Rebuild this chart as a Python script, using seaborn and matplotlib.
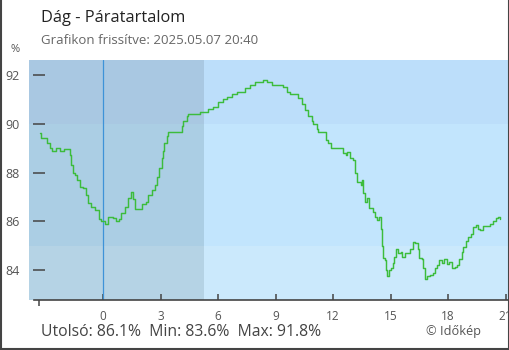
import matplotlib
matplotlib.use("Agg")
import matplotlib.pyplot as plt
import seaborn as sns
from matplotlib.lines import Line2D

# Humidity readings (hours relative to midnight, %)
hours = [-3.27, -3.21, -2.91, -2.75, -2.64, -2.45, -2.24, -2.03, -1.74, -1.70,
         -1.65, -1.56, -1.48, -1.34, -1.22, -1.04, -0.87, -0.78, -0.63, -0.42,
         -0.22, -0.10, 0.09, 0.26, 0.52, 0.69, 0.82, 0.95, 1.13, 1.30,
         1.44, 1.56, 1.65, 1.93, 2.02, 2.24, 2.36, 2.54, 2.71, 2.80,
         2.94, 3.06, 3.11, 3.20, 3.32, 3.41, 4.02, 4.11, 4.19, 4.37,
         4.43, 4.89, 5.06, 5.41, 5.48, 5.67, 5.74, 5.93, 6.01, 6.28,
         6.45, 6.71, 6.97, 7.29, 7.41, 7.67, 7.93, 8.36, 8.54, 8.80,
         9.32, 9.39, 9.58, 9.75, 10.10, 10.19, 10.37, 10.54, 10.71, 10.89,
         10.97, 11.11, 11.18, 11.23, 11.49, 11.63, 11.75, 11.88, 12.45, 12.54,
         12.68, 12.74, 12.88, 13.03, 13.15, 13.23, 13.44, 13.50, 13.55, 13.67,
         13.79, 13.89, 14.07, 14.19, 14.31, 14.41, 14.50, 14.54, 14.59, 14.71,
         14.76, 14.80, 14.92, 15.01, 15.11, 15.18, 15.28, 15.40, 15.53, 15.61,
         15.75, 15.87, 16.01, 16.16, 16.27, 16.42, 16.48, 16.62, 16.71, 16.80,
         16.89, 17.06, 17.23, 17.32, 17.41, 17.54, 17.67, 17.79, 17.93, 18.06,
         18.19, 18.36, 18.48, 18.59, 18.71, 18.80, 18.94, 19.06, 19.18, 19.32,
         19.46, 19.58, 19.67, 19.84, 20.10, 20.19, 20.32, 20.49, 20.61, 20.70]
humidity = [89.6, 89.4, 89.2, 89.0, 88.9, 89.0, 88.9, 88.95, 88.9, 88.7,
            88.3, 88.0, 87.9, 87.7, 87.4, 87.35, 87.1, 86.75, 86.6, 86.45,
            86.1, 86.0, 85.9, 86.2, 86.15, 86.0, 86.1, 86.35, 86.6, 86.95,
            87.2, 86.9, 86.5, 86.5, 86.7, 86.8, 87.1, 87.3, 87.5, 87.8,
            88.2, 88.6, 88.9, 89.2, 89.5, 89.65, 89.65, 89.9, 90.1, 90.3,
            90.4, 90.4, 90.5, 90.5, 90.6, 90.6, 90.7, 90.7, 90.9, 91.0,
            91.1, 91.2, 91.3, 91.3, 91.45, 91.6, 91.7, 91.8, 91.7, 91.6,
            91.6, 91.5, 91.3, 91.2, 91.2, 91.05, 90.8, 90.55, 90.3, 90.1,
            90.0, 90.0, 89.8, 89.65, 89.65, 89.35, 89.2, 89.0, 89.0, 88.8,
            88.7, 88.85, 88.6, 88.5, 88.0, 87.6, 87.5, 87.7, 87.15, 86.8,
            86.95, 86.55, 86.4, 86.2, 86.05, 86.2, 85.7, 85.0, 84.5, 84.4,
            84.0, 83.75, 84.0, 84.1, 84.3, 84.55, 84.85, 84.7, 84.75, 84.55,
            84.7, 84.7, 84.85, 85.15, 85.1, 84.85, 84.5, 84.45, 84.1, 83.65,
            83.75, 83.8, 83.9, 84.1, 84.2, 84.4, 84.3, 84.45, 84.25, 84.35,
            84.1, 84.15, 84.2, 84.45, 84.75, 84.95, 85.2, 85.35, 85.5, 85.75,
            85.85, 85.7, 85.65, 85.8, 85.8, 85.9, 86.0, 86.15, 86.2, 86.1]

x_ticks = [0, 3, 6, 9, 12, 15, 18, 21]
y_ticks = [84, 86, 88, 90, 92]
start_hour = -3.33
sunrise = 5.27
xlo, xhi = -3.86, 21.18
ylo, yhi = 82.78, 92.61

sns.set_style("white")
plt.rcParams["font.family"] = ["Open Sans", "DejaVu Sans"]

fig = plt.figure(figsize=(5.1, 3.5), dpi=100)
ax = fig.add_axes([29 / 510, 50 / 350, 480 / 510, 240 / 350])

# night / day background bands
night = ["#b5d3e5", "#abcee4", "#a9c8e2"]
day = ["#cbe9fc", "#c2e5fd", "#bcdefa"]
levels = [ylo, 85, 90, yhi]
for i in range(3):
    ax.fill_between([xlo, sunrise], levels[i], levels[i + 1], color=night[i], lw=0, zorder=0)
    ax.fill_between([sunrise, xhi], levels[i], levels[i + 1], color=day[i], lw=0, zorder=0)
ax.axvline(0, color="#3e93d8", lw=0.9, zorder=1)

sns.lineplot(x=hours, y=humidity, drawstyle="steps-post", color="#3cbc3c",
             lw=1.05, ax=ax, zorder=3)

ax.set_xlim(xlo, xhi)
ax.set_ylim(ylo, yhi)
ax.set_xticks(x_ticks)
ax.set_xticks([start_hour], minor=True)
ax.set_yticks(y_ticks)
ax.set_xlabel("")
ax.set_ylabel("")

for s in ["top", "right", "left"]:
    ax.spines[s].set_visible(False)
ax.spines["left"].set_position(("data", start_hour))
ax.spines["bottom"].set_color("#444444")
ax.spines["bottom"].set_linewidth(1.2)
ax.spines["bottom"].set_bounds(-3.6, xhi)

ax.tick_params(axis="y", direction="inout", length=8.6, width=1.1, color="#444444",
               labelsize=9, labelcolor="#555555", pad=10, left=True)
ax.tick_params(axis="x", which="major", direction="in", length=4.5, width=1.1,
               color="#444444", labelsize=8.5, labelcolor="#555555", pad=7, bottom=True)
ax.tick_params(axis="x", which="minor", direction="out", length=4.5, width=1.1,
               color="#444444", bottom=True)

fig.text(15 / 510, 1 - 50 / 350, "%", fontsize=8, color="#555555", ha="center", va="center")
fig.text(41 / 510, 1 - 18 / 350, "Dág - Páratartalom", fontsize=11.8, color="#222222", va="center")
fig.text(41 / 510, 1 - 41 / 350, "Grafikon frissítve: 2025.05.07 20:40", fontsize=9.5,
         color="#666666", va="center")
fig.text(41 / 510, 1 - 332 / 350, "Utolsó: 86.1%  Min: 83.6%  Max: 91.8%", fontsize=11.3,
         color="#444444", va="center")
fig.text(481 / 510, 1 - 331 / 350, "© Időkép", fontsize=9.2, color="#555555",
         ha="right", va="center")

# frame
for xs, ys in [([0.001, 0.001], [0, 1]), ([0.998, 0.998], [0, 1]), ([0, 1], [0.002, 0.002])]:
    fig.add_artist(Line2D(xs, ys, transform=fig.transFigure, color="#444444", lw=1.5))

fig.savefig("out.png", dpi=100)
